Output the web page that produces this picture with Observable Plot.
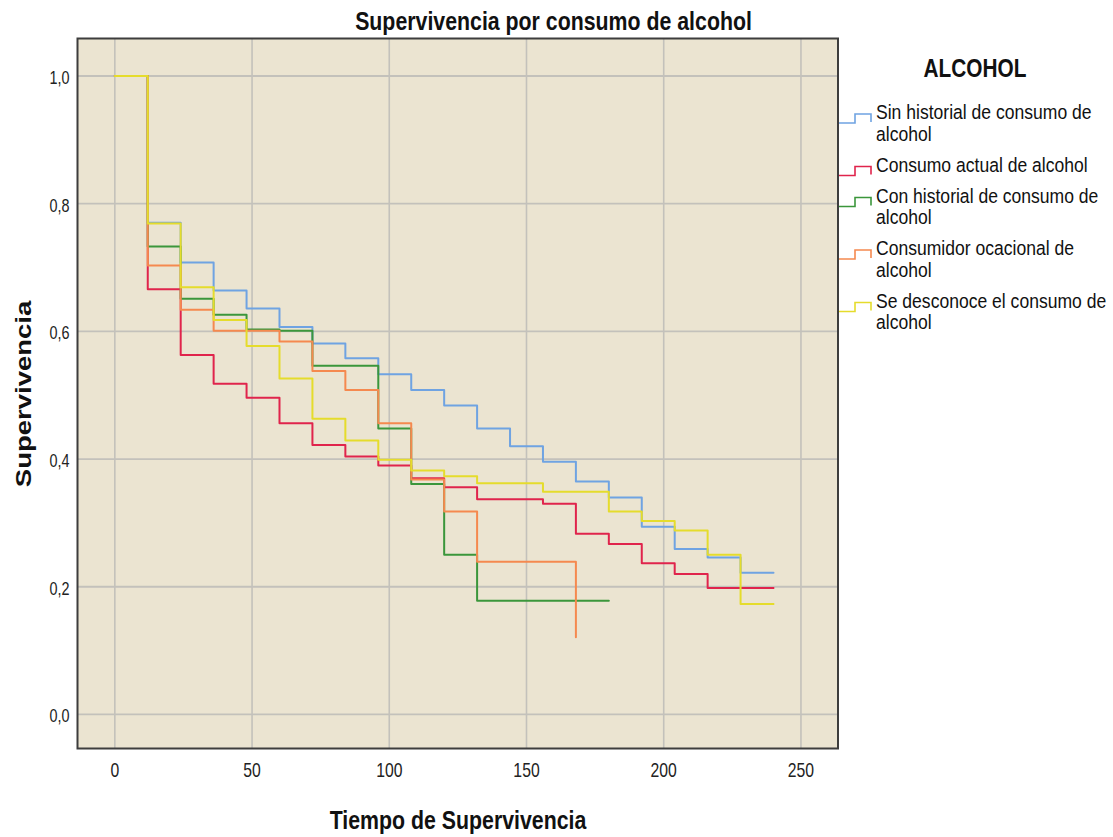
<!DOCTYPE html>
<html><head><meta charset="utf-8">
<script src="https://cdn.jsdelivr.net/npm/d3@7"></script>
<script src="https://cdn.jsdelivr.net/npm/@observablehq/plot@0.6"></script>
<style>
body{margin:0;background:#fff;}
#wrap{position:relative;width:1113px;height:837px;overflow:hidden;font-family:"Liberation Sans",Arial,sans-serif;}
#wrap svg{position:absolute;left:0;top:0;}
</style></head><body><div id="wrap"></div>
<script>
// ---- data ----
const times = [0,12,24,36,48,60,72,84,96,108,120,132,144,156,168,180,192,204,216,228,240];
const seriesNames = [
  "Sin historial de consumo de alcohol",
  "Consumo actual de alcohol",
  "Con historial de consumo de alcohol",
  "Consumidor ocacional de alcohol",
  "Se desconoce el consumo de alcohol"
];
const legendLines = [
  ["Sin historial de consumo de","alcohol"],
  ["Consumo actual de alcohol"],
  ["Con historial de consumo de","alcohol"],
  ["Consumidor ocacional de","alcohol"],
  ["Se desconoce el consumo de","alcohol"]
];
const sinHistorial = [1,0.770,0.708,0.664,0.636,0.607,0.581,0.558,0.533,0.508,0.484,0.448,0.420,0.396,0.365,0.340,0.294,0.259,0.246,0.222,0.222];
const consumoActual = [1,0.666,0.563,0.518,0.496,0.456,0.422,0.404,0.390,0.370,0.356,0.337,0.337,0.330,0.283,0.267,0.237,0.220,0.198,0.198,0.198];
const conHistorial = [1,0.733,0.651,0.626,0.603,0.601,0.546,0.546,0.448,0.361,0.250,0.178,0.178,0.178,0.178,0.178];
const ocasional = [1,0.703,0.634,0.601,0.601,0.584,0.538,0.508,0.456,0.368,0.318,0.239,0.239,0.239,0.121];
const desconoce = [1,0.769,0.669,0.618,0.577,0.526,0.463,0.429,0.399,0.382,0.373,0.362,0.362,0.349,0.349,0.318,0.303,0.288,0.250,0.173,0.173];
const colors = ["#6fa3e2","#e0244c","#3b963b","#f5894f","#e5dc2c"];
const xTicks = [0,50,100,150,200,250];
const yTicks = [0,0.2,0.4,0.6,0.8,1.0];

const seriesValues = [sinHistorial, consumoActual, conHistorial, ocasional, desconoce];
const rows = [];
seriesNames.forEach((name,i)=>seriesValues[i].forEach((v,j)=>rows.push({serie:name,t:times[j],s:v})));

const FONT = '"Liberation Sans",Arial,sans-serif';
const plot = Plot.plot({
  width:1113, height:837,
  marginLeft:77, marginRight:275.5, marginTop:38, marginBottom:89,
  style:{background:"transparent", fontFamily:FONT, color:"#222"},
  x:{domain:[-13.6,263.5]},
  y:{domain:[-0.0533,1.0587]},
  color:{domain:seriesNames, range:colors},
  marks:[
    Plot.frame({fill:"#ebe4d1"}),
    Plot.gridX(xTicks,{stroke:"#c3c1bb",strokeOpacity:1,strokeWidth:1.6}),
    Plot.gridY(yTicks,{stroke:"#c3c1bb",strokeOpacity:1,strokeWidth:1.8}),
    Plot.line(rows,{x:"t",y:"s",z:"serie",stroke:"serie",curve:"step-after",strokeWidth:2}),
    Plot.frame({stroke:"#3d3d3d",strokeWidth:2}),
    Plot.axisX(xTicks,{tickSize:0,tickPadding:14,dy:14,fontSize:21,label:null,fill:"#222"}),
    Plot.axisY(yTicks,{tickSize:0,tickPadding:8,fontSize:18,label:null,fill:"#222",dy:8,
      tickFormat:d=>d.toFixed(1).replace(".",",")})
  ]
});
document.getElementById("wrap").appendChild(plot);

function squeeze(nodes,sx,sy){
  nodes.forEach(el=>{
    let tr = el.getAttribute("transform")||"";
    const x = el.getAttribute("x"), y = el.getAttribute("y");
    if (x!==null || y!==null){
      tr = tr + ` translate(${+x||0},${+y||0})`;
      el.removeAttribute("x"); el.removeAttribute("y");
    }
    el.setAttribute("transform", tr + ` scale(${sx},${sy})`);
  });
}
squeeze(plot.querySelectorAll('g[aria-label="x-axis tick label"] text'),0.75,1);
squeeze(plot.querySelectorAll('g[aria-label="y-axis tick label"] text'),0.8,1);

// ---- overlay: title, axis labels, legend ----
const ov = d3.select("#wrap").append("svg").attr("width",1113).attr("height",837)
  .style("font-family",FONT);
function txt(x,y,s,size,weight,anchor,sx,sy,rot){
  ov.append("text")
    .attr("transform",`translate(${x},${y})${rot?` rotate(${rot})`:""} scale(${sx},${sy})`)
    .attr("font-size",size).attr("font-weight",weight).attr("text-anchor",anchor)
    .attr("fill","#111").text(s);
}
txt(553.5,29.5,"Supervivencia por consumo de alcohol",26,"bold","middle",0.82,1,0);
txt(458,829,"Tiempo de Supervivencia",26,"bold","middle",0.82,1,0);
txt(31,394,"Supervivencia",27.5,"bold","middle",1,0.8,-90);
txt(975,76.7,"ALCOHOL",26,"bold","middle",0.8,1,0);

let b = 119;
legendLines.forEach((lines,i)=>{
  ov.append("polyline")
    .attr("points",[[839,b+4],[855,b+4],[855,b-5],[871,b-5],[871,b+3]].map(p=>p.join(",")).join(" "))
    .attr("fill","none").attr("stroke",colors[i]).attr("stroke-width",1.6);
  lines.forEach((l,k)=>{
    txt(876,b+k*21.5,l,19.5,"normal","start",0.9,1,0);
  });
  b += (lines.length-1)*21.5 + 31;
});
</script>
</body></html>
